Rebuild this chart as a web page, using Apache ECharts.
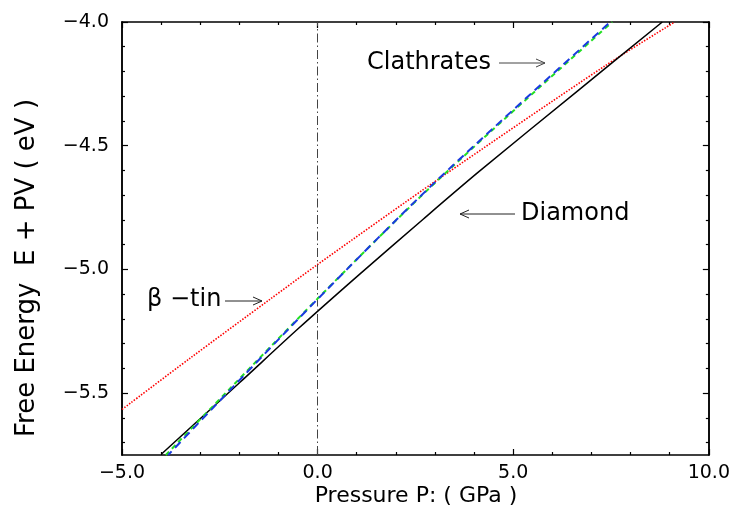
<!DOCTYPE html>
<html><head><meta charset="utf-8">
<script src="https://cdn.jsdelivr.net/npm/echarts@6/dist/echarts.min.js"></script>
<style>html,body{margin:0;padding:0;background:#fff}#c{width:733px;height:518px}</style>
</head><body><div id="c"></div>
<script>
// Diamond (black solid)
const diamondP = [-3.99, -1.99, -0.5, 1.07, 2.69, 4.13, 6.68, 8.81];
const diamondE = [-5.746, -5.457, -5.240, -5.020, -4.798, -4.604, -4.274, -4.0];
// beta-tin (red dotted)
const tinP = [-5.0, -3.27, -1.22, 0.0, 3.07, 7.32, 9.13];
const tinE = [-5.566, -5.360, -5.121, -4.980, -4.637, -4.180, -4.0];
// Clathrate I (blue dashed)
const clathAP = [-3.82, -3.1, 0.0, 3.07, 7.48];
const clathAE = [-5.75, -5.63, -5.12, -4.637, -4.0];
// Clathrate II (green dashed)
const clathBP = [-3.88, 0.0, 3.07, 7.53];
const clathBE = [-5.75, -5.118, -4.640, -4.0];

const xMin = -5, xMax = 10, xStep = 5;
const yMin = -5.75, yMax = -4.0;
const yMajor = [-5.5, -5.0, -4.5, -4.0];
const yMinor = [-5.7, -5.6, -5.4, -5.3, -5.2, -5.1, -4.9, -4.8, -4.7, -4.6, -4.4, -4.3, -4.2, -4.1];
const refLineX = 0;

const zip = (a, b) => a.map((v, i) => [v, b[i]]);
const fmt = v => Number(v).toFixed(1).replace('-', '\u2212');
const FONT = '"DejaVu Sans", sans-serif';

const chart = echarts.init(document.getElementById('c'), null, {renderer: 'canvas'});

function xAx(pos, showLabel) {
  return {
    type: 'value', position: pos, min: xMin, max: xMax, interval: xStep,
    axisLine: {show: true, onZero: false, lineStyle: {color: '#000', width: 1.5}},
    axisTick: {show: true, inside: true, length: 6, lineStyle: {color: '#000', width: 1.2}},
    minorTick: {show: true, splitNumber: 5, length: 3, lineStyle: {color: '#000', width: 1.2}},
    axisLabel: {show: showLabel, formatter: fmt, margin: 9, color: '#000', fontSize: 19, fontFamily: FONT},
    splitLine: {show: false}, minorSplitLine: {show: false}
  };
}
function yAx(pos, vals, len, showLabel) {
  return {
    type: 'value', position: pos, min: yMin, max: yMax,
    axisLine: {show: true, onZero: false, lineStyle: {color: '#000', width: 1.5}},
    axisTick: {show: true, inside: true, length: len, customValues: vals, lineStyle: {color: '#000', width: 1.2}},
    axisLabel: {show: showLabel, customValues: yMajor, formatter: fmt, margin: 13, color: '#000', fontSize: 19, fontFamily: FONT},
    splitLine: {show: false}
  };
}

function arrow(x1, y1, x2, y2, color) {
  const ang = Math.atan2(y2 - y1, x2 - x1);
  const hl = 9, hw = 4;
  const bx = x2 - hl * Math.cos(ang), by = y2 - hl * Math.sin(ang);
  const px = -Math.sin(ang) * hw, py = Math.cos(ang) * hw;
  return [
    {type: 'line', silent: true, shape: {x1, y1, x2, y2}, style: {stroke: color, lineWidth: 1}},
    {type: 'polyline', silent: true, shape: {points: [[bx + px, by + py], [x2, y2], [bx - px, by - py]]}, style: {stroke: color, lineWidth: 1, fill: null}}
  ];
}
function label(text, x, y, size) {
  return {type: 'text', silent: true, style: {text, x, y, font: size + 'px ' + FONT, fill: '#000', align: 'left', verticalAlign: 'middle'}};
}

const graphics = [
  label('Clathrates', 367, 63, 24), ...arrow(499, 63, 545, 63, '#444'),
  label('Diamond', 521, 214, 24), ...arrow(515, 214, 460, 214, '#222'),
  label('\u03b2 \u2212tin', 147, 300, 24), ...arrow(225, 301, 262, 301, '#222'),
  {type: 'text', silent: true, rotation: Math.PI / 2, x: 27, y: 268,
   style: {text: 'Free Energy  E + PV ( eV )', x: 0, y: 0, font: '26px ' + FONT, fill: '#000', align: 'center', verticalAlign: 'middle'}},
  {type: 'text', silent: true, style: {text: 'Pressure P: ( GPa )', x: 416, y: 496, font: '22px ' + FONT, fill: '#000', align: 'center', verticalAlign: 'middle'}}
];

chart.setOption({
  animation: false,
  backgroundColor: '#fff',
  grid: {left: 122, right: 23, top: 22, bottom: 63, containLabel: false},
  xAxis: [xAx('bottom', true), xAx('top', false)],
  yAxis: [yAx('left', yMajor, 6, true), yAx('left', yMinor, 3, false), yAx('right', yMajor, 6, false), yAx('right', yMinor, 3, false)],
  series: [
    {type: 'line', name: 'beta-tin', data: zip(tinP, tinE), showSymbol: false, symbol: 'none', smooth: 0.3,
     lineStyle: {color: '#ff0000', width: 1.6, type: [1.5, 1.5]}, z: 3},
    {type: 'line', name: 'Diamond', data: zip(diamondP, diamondE), showSymbol: false, symbol: 'none', smooth: 0.3,
     lineStyle: {color: '#000', width: 1.5}, z: 4,
     markLine: {silent: true, symbol: 'none', label: {show: false}, animation: false,
       data: [{xAxis: refLineX}], lineStyle: {color: '#444', width: 1, type: [9, 3, 1.5, 3]}}},
    {type: 'line', name: 'Clathrate II', data: zip(clathBP, clathBE), showSymbol: false, symbol: 'none', smooth: 0.3,
     lineStyle: {color: '#22e022', width: 2, type: [5, 4]}, z: 5},
    {type: 'line', name: 'Clathrate I', data: zip(clathAP, clathAE), showSymbol: false, symbol: 'none', smooth: 0.3,
     lineStyle: {color: '#1a3ae0', width: 2, type: [8, 5], dashOffset: 3}, z: 6}
  ],
  graphic: graphics
});
</script></body></html>
